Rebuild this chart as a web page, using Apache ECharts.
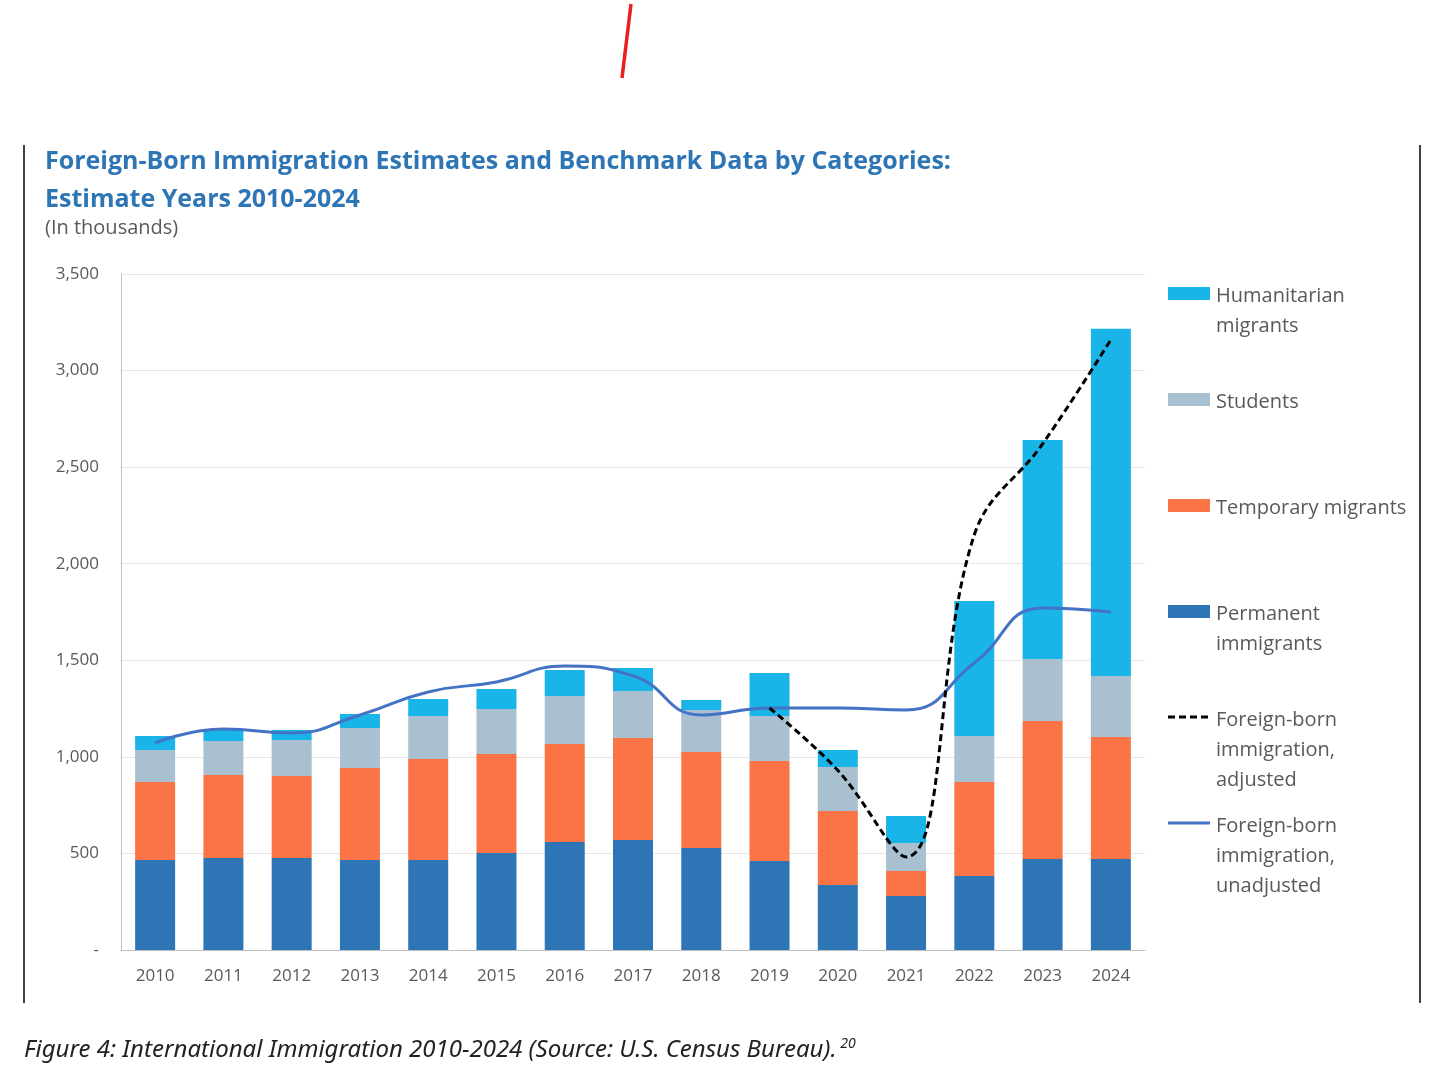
<!DOCTYPE html>
<html>
<head>
<meta charset="utf-8">
<script src="https://cdn.jsdelivr.net/npm/echarts@6/dist/echarts.min.js"></script>
<style>html,body{margin:0;background:#fff}#chartmain{width:1456px;height:1079px}</style>
</head>
<body>
<div id="chartmain"></div>
<script>
var years = ['2010','2011','2012','2013','2014','2015','2016','2017','2018','2019','2020','2021','2022','2023','2024'];
var permanent = [466,476,476,466,466,502,559,570,528,461,337,280,383,471,471];
var temporary = [404,430,425,476,523,513,508,528,497,518,383,129,487,715,632];
var students = [166,176,186,208,223,233,248,243,218,233,228,145,238,321,316];
var humanitarian = [72,57,52,72,88,103,135,119,52,222,88,140,699,1134,1797];
var adjusted = [null,null,null,null,null,null,null,null,null,1253,930,482,2150,2620,3160];
var unadjusted = [1072,1144,1124,1217,1336,1388,1470,1419,1217,1253,1253,1243,1486,1771,1750];

var myChart = echarts.init(document.getElementById('chartmain'));
var font = '"Open Sans", "Noto Sans", sans-serif';

function legendItem(top, color, isLine, dashed, text) {
    var items = [];
    if (isLine) {
        items.push({type: 'line', shape: {x1: 1168, y1: top + 12, x2: 1210, y2: top + 12},
            style: {stroke: color, lineWidth: 3, lineDash: dashed ? [7, 4] : null}});
    } else {
        items.push({type: 'rect', shape: {x: 1168, y: top + 6, width: 42, height: 13}, style: {fill: color}});
    }
    items.push({type: 'text', left: 1216, top: top, style: {text: text, fill: '#595959', font: '20px ' + font, lineHeight: 30}});
    return items;
}

var graphics = [
    {type: 'line', shape: {x1: 24, y1: 145, x2: 24, y2: 1003}, style: {stroke: '#000', lineWidth: 1.5}},
    {type: 'line', shape: {x1: 1420, y1: 145, x2: 1420, y2: 1003}, style: {stroke: '#000', lineWidth: 1.5}},
    {type: 'line', shape: {x1: 631, y1: 4, x2: 622, y2: 78}, style: {stroke: '#e82020', lineWidth: 3.5}},
    {type: 'text', left: 45, top: 143, style: {text: 'Foreign-Born Immigration Estimates and Benchmark Data by Categories:\nEstimate Years 2010-2024', fill: '#2E75B6', font: 'bold 25px ' + font, lineHeight: 38}},
    {type: 'text', left: 45, top: 218, style: {text: '(In thousands)', fill: '#595959', font: '20px ' + font}},
    {type: 'text', left: 24, top: 1037, style: {
        text: '{a|Figure 4: International Immigration 2010-2024 (Source: U.S. Census Bureau).}{s| 20}',
        rich: {a: {fill: '#222', font: 'italic 24px "Noto Sans", sans-serif'}, s: {fill: '#222', font: 'italic 14px "Noto Sans", sans-serif', verticalAlign: 'top', padding: [0, 0, 12, 0]}}}}
];
graphics = graphics
    .concat(legendItem(281, '#19B4E8', false, false, 'Humanitarian\nmigrants'))
    .concat(legendItem(387, '#A8C0D0', false, false, 'Students'))
    .concat(legendItem(493, '#FA7445', false, false, 'Temporary migrants'))
    .concat(legendItem(599, '#2E75B6', false, false, 'Permanent\nimmigrants'))
    .concat(legendItem(705, '#000', true, true, 'Foreign-born\nimmigration,\nadjusted'))
    .concat(legendItem(811, '#4472C4', true, false, 'Foreign-born\nimmigration,\nunadjusted'));

var option = {
    backgroundColor: '#FFFFFF',
    animation: false,
    grid: {left: 121, right: 311, top: 274, bottom: 129},
    xAxis: {
        type: 'category',
        data: years,
        axisLine: {lineStyle: {color: '#bfbfbf'}},
        axisTick: {show: false},
        axisLabel: {color: '#595959', fontSize: 17, fontFamily: font, margin: 18}
    },
    yAxis: {
        type: 'value',
        min: 0, max: 3500, interval: 500,
        axisLine: {show: true, lineStyle: {color: '#bfbfbf'}},
        splitLine: {lineStyle: {color: '#e6e6e6'}},
        axisLabel: {color: '#595959', fontSize: 17, fontFamily: font, margin: 22,
            formatter: function (v) { return v === 0 ? '-' : v.toLocaleString('en-US'); }}
    },
    graphic: graphics,
    series: [
        {name: 'Permanent immigrants', type: 'bar', stack: 'sum', barWidth: 40, itemStyle: {color: '#2E75B6'}, data: permanent},
        {name: 'Temporary migrants', type: 'bar', stack: 'sum', itemStyle: {color: '#FA7445'}, data: temporary},
        {name: 'Students', type: 'bar', stack: 'sum', itemStyle: {color: '#A8C0D0'}, data: students},
        {name: 'Humanitarian migrants', type: 'bar', stack: 'sum', itemStyle: {color: '#19B4E8'}, data: humanitarian},
        {name: 'Foreign-born immigration, unadjusted', type: 'line', smooth: 0.5, symbol: 'none',
            lineStyle: {color: '#4472C4', width: 3}, data: unadjusted},
        {name: 'Foreign-born immigration, adjusted', type: 'line', smooth: 0.4, symbol: 'none',
            lineStyle: {color: '#000', width: 3, type: [7, 4]}, data: adjusted}
    ]
};

myChart.setOption(option);
</script>
</body>
</html>
